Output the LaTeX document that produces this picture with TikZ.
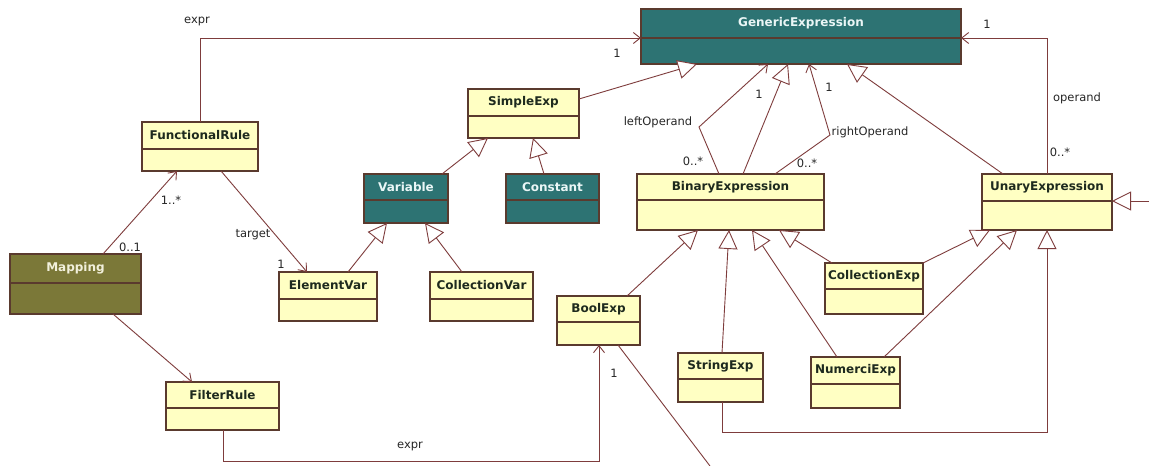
\documentclass[tikz,border=0pt]{standalone}
\usepackage{fontspec}
\usetikzlibrary{arrows.meta,calc}
\newfontfamily\dv{DejaVu Sans}
\definecolor{yel}{HTML}{FFFFC3}
\definecolor{teal2}{HTML}{2D7373}
\definecolor{olive2}{HTML}{7B7838}
\definecolor{bordercol}{HTML}{5A3A2E}
\definecolor{linecol}{HTML}{7E3C3C}
\definecolor{lighttxt}{HTML}{EAF6F6}
\definecolor{maptxt}{HTML}{F2F0DC}
\definecolor{darktxt}{HTML}{1E2A1E}
\newcommand\clsfont{\dv\bfseries\fontsize{12}{14}\selectfont}
\newcommand\lblfont{\dv\fontsize{11.5}{13}\selectfont}
\newcommand\umlbox[9]{%
 \node[draw=bordercol, line width=1.4pt, fill=#8, minimum width=#4pt, minimum height=#5pt, inner sep=0pt, outer sep=0pt, anchor=north west] (#1) at (#2,#3) {};
 \draw[draw=bordercol, line width=1.2pt] ($(#1.north west)+(0,#6)$) -- ($(#1.north east)+(0,#6)$);
 \node[font=\clsfont, text=#9, inner sep=0pt] (#1-name) at ($(#1.north)+(0,#6/2)$) {#7};
}
\tikzset{
 conn/.style={draw=linecol, line width=0.9pt},
 assoc/.style={conn, -{Straight Barb[length=7pt, width=11pt, line width=0.9pt]}},
 gen/.style={conn, -{Triangle[open, fill=white, length=19pt, width=19pt, line width=0.9pt]}},
 lbl/.style={font=\lblfont, text=black!85, inner sep=0pt}
}
\begin{document}
\begin{tikzpicture}[x=1pt,y=-1pt]
\useasboundingbox[fill=white] (0,0) rectangle (1149,466);
% classes
\umlbox{ge}{641}{9}{320}{55}{29}{GenericExpression}{teal2}{lighttxt}
\umlbox{se}{468}{89}{111}{49}{27}{SimpleExp}{yel}{darktxt}
\umlbox{var}{364}{174}{84}{49}{26}{Variable}{teal2}{lighttxt}
\umlbox{con}{506}{174}{93}{49}{26}{Constant}{teal2}{lighttxt}
\umlbox{be}{637}{174}{187}{56}{26}{BinaryExpression}{yel}{darktxt}
\umlbox{ue}{982}{174}{130}{56}{27}{UnaryExpression}{yel}{darktxt}
\umlbox{fr}{142}{122}{116}{49}{27}{FunctionalRule}{yel}{darktxt}
\umlbox{map}{10}{254}{131}{60}{29}{Mapping}{olive2}{maptxt}
\umlbox{ev}{279}{272}{98}{49}{27}{ElementVar}{yel}{darktxt}
\umlbox{cv}{430}{272}{103}{49}{27}{CollectionVar}{yel}{darktxt}
\umlbox{bool}{557}{296}{83}{49}{26}{BoolExp}{yel}{darktxt}
\umlbox{filt}{166}{382}{113}{48}{26}{FilterRule}{yel}{darktxt}
\umlbox{str}{678}{353}{85}{49}{26}{StringExp}{yel}{darktxt}
\umlbox{cexp}{825}{263}{98}{51}{26}{CollectionExp}{yel}{darktxt}
\umlbox{num}{811}{357}{89}{51}{27}{NumerciExp}{yel}{darktxt}
% free ends
\coordinate (boolend) at (710,466);
\coordinate (rightend) at (1149,201);
% associations
\draw[assoc] ($(fr.north west)+(58,0)$) |- ($(ge.north west)+(0,29)$);
\draw[assoc] ($(fr.south west)+(79,0)$) -- ($(ev.north west)+(28,0)$);
\draw[assoc] ($(map.north west)+(93,0)$) -- ($(fr.south west)+(35,0)$);
\draw[assoc] ($(map.south west)+(103,0)$) -- ($(filt.north west)+(26,0)$);
\draw[assoc] ($(filt.south west)+(57,0)$) -- ++(0,31) -| ($(bool.south west)+(42,0)$);
\draw[conn] ($(bool.south west)+(61,0)$) -- (boolend);
\draw[assoc] ($(ue.north west)+(65,0)$) |- ($(ge.north east)+(0,29)$);
\draw[assoc] ($(be.north west)+(82,0)$) -- ++(-20,-47) -- ($(ge.south west)+(127,0)$);
\draw[assoc] ($(be.north west)+(138,0)$) -- ++(55,-39) -- ($(ge.south west)+(168,0)$);
% generalizations
\draw[gen] ($(se.north east)+(0,10)$) -- ($(ge.south west)+(56,0)$);
\draw[gen] ($(var.north west)+(78,0)$) -- ($(se.south west)+(20,0)$);
\draw[gen] ($(con.north west)+(38,0)$) -- ($(se.south west)+(65,0)$);
\draw[gen] ($(ev.north west)+(69,0)$) -- ($(var.south west)+(23,0)$);
\draw[gen] ($(cv.north west)+(32,0)$) -- ($(var.south west)+(61,0)$);
\draw[gen] ($(bool.north west)+(70,0)$) -- ($(be.south west)+(61,0)$);
\draw[gen] ($(str.north west)+(44,0)$) -- ($(be.south west)+(92,0)$);
\draw[gen] ($(num.north west)+(26,0)$) -- ($(be.south west)+(115,0)$);
\draw[gen] ($(cexp.north west)+(7,0)$) -- ($(be.south west)+(142,0)$);
\draw[gen] (cexp.north east) -- ($(ue.south west)+(8,0)$);
\draw[gen] ($(num.north west)+(73,0)$) -- ($(ue.south west)+(35,0)$);
\draw[gen] ($(str.south west)+(44,0)$) -- ++(0,30) -| ($(ue.south west)+(65,0)$);
\draw[gen] (rightend) -- ($(ue.north east)+(0,27)$);
\draw[gen] ($(ue.north west)+(21,0)$) -- ($(ge.south west)+(206,0)$);
\draw[gen] ($(be.north west)+(106,0)$) -- ($(ge.south west)+(147,0)$);
% labels
\node[lbl] (l1) at (197,21) {expr};
\node[lbl] (l2) at (617,53) {1};
\node[lbl] (l3) at (171,200) {1..*};
\node[lbl] (l4) at (130,247) {0..1};
\node[lbl] (l5) at (253,235) {target};
\node[lbl] (l6) at (281,264) {1};
\node[lbl] (l7) at (410,446) {expr};
\node[lbl] (l8) at (614,373) {1};
\node[lbl] (l9) at (658,122) {leftOperand};
\node[lbl] (l10) at (693,161) {0..*};
\node[lbl] (l11) at (759,94) {1};
\node[lbl] (l12) at (870,132) {rightOperand};
\node[lbl] (l13) at (807,163) {0..*};
\node[lbl] (l14) at (829,87) {1};
\node[lbl] (l15) at (987,24) {1};
\node[lbl] (l16) at (1077,98) {operand};
\node[lbl] (l17) at (1060,152) {0..*};
\end{tikzpicture}
\end{document}
